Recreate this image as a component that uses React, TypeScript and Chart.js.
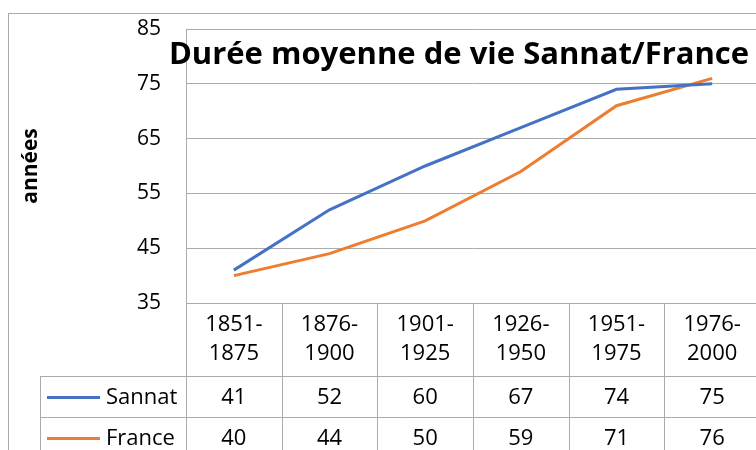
import React, { useEffect, useRef } from "react";
import { Chart, registerables } from "chart.js";

Chart.register(...registerables);

const periods = ["1851-1875", "1876-1900", "1901-1925", "1926-1950", "1951-1975", "1976-2000"];
const sannat = [41, 52, 60, 67, 74, 75];
const france = [40, 44, 50, 59, 71, 76];
const seriesNames = ["Sannat", "France"];
const seriesColors = ["#4472C4", "#ED7D31"];
const yMin = 35;
const yMax = 85;
const yStep = 10;
const chartTitle = "Durée moyenne de vie Sannat/France";
const yTitle = "années";

const FONT = "'Open Sans', sans-serif";
const GRID = "#ababab";
const TEXT = "#000000";

const tablePlugin = {
  id: "dataTable",
  afterDraw(chart: any) {
    const { ctx, chartArea, scales } = chart;
    const xs = scales.x;
    const n = periods.length;
    const colW = (chartArea.right - chartArea.left) / n;
    const headerBottom = 376;
    const rowH = 41;
    const tableLeft = 40;
    const H = chart.height;
    ctx.save();
    ctx.strokeStyle = GRID;
    ctx.lineWidth = 1;
    // outer chart border
    ctx.strokeRect(8.5, 13.5, chart.width, H);
    // vertical column lines
    for (let i = 0; i <= n; i++) {
      const bx = Math.round(xs.getPixelForValue(i) - colW / 2) + 0.5;
      ctx.beginPath();
      ctx.moveTo(bx, chartArea.bottom);
      ctx.lineTo(bx, H);
      ctx.stroke();
    }
    // horizontal row lines
    const series = [sannat, france];
    for (let r = 0; r <= series.length; r++) {
      const yy = headerBottom + r * rowH + 0.5;
      ctx.beginPath();
      ctx.moveTo(tableLeft + 0.5, yy);
      ctx.lineTo(chartArea.right, yy);
      ctx.stroke();
    }
    ctx.beginPath();
    ctx.moveTo(tableLeft + 0.5, headerBottom);
    ctx.lineTo(tableLeft + 0.5, H);
    ctx.stroke();

    // rows
    ctx.font = "22px " + FONT;
    ctx.fillStyle = TEXT;
    ctx.textBaseline = "middle";
    series.forEach((vals, r) => {
      const cy = headerBottom + r * rowH + rowH / 2 + 1;
      // legend key
      ctx.strokeStyle = seriesColors[r];
      ctx.lineWidth = 3;
      ctx.beginPath();
      ctx.moveTo(47, cy);
      ctx.lineTo(100, cy);
      ctx.stroke();
      ctx.textAlign = "left";
      ctx.fillText(seriesNames[r], 106, cy);
      ctx.textAlign = "center";
      vals.forEach((v, i) => {
        ctx.fillText(String(v), xs.getPixelForValue(i), cy);
      });
    });

    // title
    ctx.font = "bold 31px " + FONT;
    ctx.textAlign = "center";
    ctx.textBaseline = "middle";
    ctx.fillText(chartTitle, 459, 55);
    ctx.restore();
  },
};

export default function App() {
  const ref = useRef<HTMLCanvasElement | null>(null);
  useEffect(() => {
    if (!ref.current) return;
    const chart = new Chart(ref.current, {
      type: "line",
      data: {
        labels: periods,
        datasets: [
          {
            label: seriesNames[0],
            data: sannat,
            borderColor: seriesColors[0],
            backgroundColor: seriesColors[0],
            borderWidth: 3,
            pointRadius: 0,
            tension: 0,
          },
          {
            label: seriesNames[1],
            data: france,
            borderColor: seriesColors[1],
            backgroundColor: seriesColors[1],
            borderWidth: 3,
            pointRadius: 0,
            tension: 0,
          },
        ],
      },
      options: {
        responsive: false,
        animation: false,
        layout: { padding: { top: 29, right: 40, left: 0, bottom: 0 } },
        plugins: {
          legend: { display: false },
          tooltip: { enabled: false },
          title: { display: false },
        },
        scales: {
          x: {
            offset: true,
            grid: { display: false, drawTicks: false },
            border: { display: false },
            ticks: {
              color: TEXT,
              font: { family: FONT, size: 22, lineHeight: 1.32 },
              padding: 7,
              maxRotation: 0,
              autoSkip: false,
              callback: (_v: any, i: number) => {
                const parts = periods[i].split("-");
                return [parts[0] + "-", parts[1]];
              },
            },
            afterFit: (s: any) => {
              s.height = 197;
            },
          },
          y: {
            min: yMin,
            max: yMax,
            grid: { color: GRID, drawTicks: true, tickLength: 25, tickColor: "rgba(0,0,0,0)" },
            border: { display: true, color: GRID },
            ticks: {
              stepSize: yStep,
              color: TEXT,
              font: { family: FONT, size: 21 },
              padding: 0,
            },
            title: {
              display: true,
              text: yTitle,
              color: TEXT,
              font: { family: FONT, size: 21, weight: "bold" },
              padding: { top: 18, bottom: 0 },
            },
            afterFit: (s: any) => {
              s.width = 186;
            },
          },
        },
      },
      plugins: [tablePlugin],
    });
    return () => chart.destroy();
  }, []);
  return (
    <div style={{ position: "fixed", left: 0, top: 0, width: 756, height: 450, overflow: "hidden" }}>
      <canvas ref={ref} width={800} height={500} style={{ display: "block" }} />
    </div>
  );
}
